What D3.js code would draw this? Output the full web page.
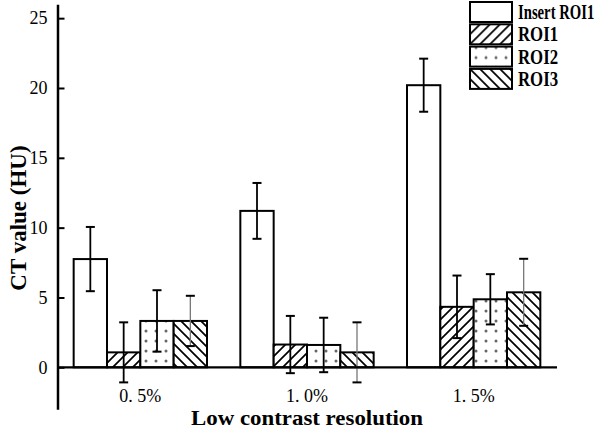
<!DOCTYPE html>
<html><head><meta charset="utf-8">
<script src="https://cdn.jsdelivr.net/npm/d3@7"></script>
<style>body{margin:0;background:#fff;} svg{display:block;}</style>
</head><body>
<svg id="chart" width="597" height="436"></svg>
<script>
const categories = ["0. 5%", "1. 0%", "1. 5%"];
const seriesNames = ["Insert ROI1", "ROI1", "ROI2", "ROI3"];
const insertMean = [7.75, 11.2, 20.2];
const insertErr  = [2.3, 2.0, 1.9];
const roi1Mean = [1.07, 1.63, 4.33];
const roi1Err  = [2.15, 2.05, 2.24];
const roi2Mean = [3.32, 1.6, 4.87];
const roi2Err  = [2.2, 1.95, 1.8];
const roi3Mean = [3.32, 1.07, 5.37];
const roi3Err  = [1.8, 2.15, 2.4];
const yTicks = [0, 5, 10, 15, 20, 25];

const means = [insertMean, roi1Mean, roi2Mean, roi3Mean];
const errs = [insertErr, roi1Err, roi2Err, roi3Err];
const fills = ["#fff", "url(#hatchR)", "url(#dots)", "url(#hatchL)"];
const errLine = ["#000", "#000", "#000", "#777"];

const svg = d3.select("#chart");
const defs = svg.append("defs");
// "/" hatch
const p1 = defs.append("pattern").attr("id","hatchR").attr("patternUnits","userSpaceOnUse")
  .attr("width",10).attr("height",10);
p1.append("rect").attr("width",10).attr("height",10).attr("fill","#fff");
p1.append("path").attr("d","M-1,11 L11,-1 M-6,6 L6,-6 M4,16 L16,4").attr("stroke","#000").attr("stroke-width",1.7);
// "\" hatch
const p3 = defs.append("pattern").attr("id","hatchL").attr("patternUnits","userSpaceOnUse")
  .attr("width",10).attr("height",10);
p3.append("rect").attr("width",10).attr("height",10).attr("fill","#fff");
p3.append("path").attr("d","M-1,-1 L11,11 M-6,4 L6,16 M4,-6 L16,6").attr("stroke","#000").attr("stroke-width",1.7);
// dots
const p2 = defs.append("pattern").attr("id","dots").attr("patternUnits","userSpaceOnUse")
  .attr("width",10).attr("height",10).attr("x",1).attr("y",-4);
p2.append("rect").attr("width",10).attr("height",10).attr("fill","#fff");
p2.append("circle").attr("cx",5).attr("cy",5).attr("r",1.5).attr("fill","#666");

const x0 = d3.scaleBand().domain(categories).range([57, 557]).paddingInner(0.2).paddingOuter(0.1);
const x1 = d3.scaleBand().domain(seriesNames).range([0, x0.bandwidth()]);
const y = d3.scaleLinear().domain([-3, 26]).range([409.2, 4.2]);

// bars
const data = [];
categories.forEach((c, ci) => seriesNames.forEach((s, si) => {
  data.push({c, s, si, v: means[si][ci], e: errs[si][ci]});
}));

const g = svg.append("g");
g.selectAll("rect.bar").data(data).enter().append("rect").attr("class","bar")
  .attr("x", d => x0(d.c) + x1(d.s))
  .attr("y", d => y(d.v))
  .attr("width", x1.bandwidth())
  .attr("height", d => y(0) - y(d.v))
  .attr("fill", d => fills[d.si])
  .attr("stroke", "#000").attr("stroke-width", 2);

// error bars
const eb = g.selectAll("g.err").data(data).enter().append("g").attr("class","err");
const cx = d => x0(d.c) + x1(d.s) + x1.bandwidth()/2;
eb.append("line").attr("x1", cx).attr("x2", cx)
  .attr("y1", d => y(d.v + d.e)).attr("y2", d => y(d.v - d.e))
  .attr("stroke", d => errLine[d.si]).attr("stroke-width", d => d.si === 3 ? 1.3 : 1.8);
[1, -1].forEach(sgn => {
  eb.append("line").attr("x1", d => cx(d) - 4.5).attr("x2", d => cx(d) + 4.5)
    .attr("y1", d => y(d.v + sgn*d.e)).attr("y2", d => y(d.v + sgn*d.e))
    .attr("stroke", "#000").attr("stroke-width", 2);
});

// baseline
svg.append("line").attr("x1", 57).attr("x2", 557).attr("y1", y(0)).attr("y2", y(0))
  .attr("stroke","#000").attr("stroke-width",2.2);

// y axis
const yAxis = d3.axisLeft(y).tickValues(yTicks).tickSizeInner(-7).tickSizeOuter(0).tickPadding(10);
const ya = svg.append("g").attr("transform","translate(57.5,0)").call(yAxis);
ya.select(".domain").attr("stroke-width",2.5);
ya.selectAll(".tick line").attr("stroke-width",2);
ya.selectAll("text").attr("font-family","Liberation Serif").attr("font-size",18).attr("fill","#000");

// x axis labels
const xAxis = d3.axisBottom(x0).tickSize(0).tickPadding(22);
const xa = svg.append("g").attr("transform",`translate(0,${y(0)})`).call(xAxis);
xa.select(".domain").remove();
xa.selectAll("text").attr("font-family","Liberation Serif").attr("font-size",18).attr("fill","#000");

// axis titles
svg.append("text").attr("x", 307).attr("y", 425).attr("text-anchor","middle")
  .attr("font-family","Liberation Serif").attr("font-weight","bold").attr("font-size",21.5)
  .attr("textLength", 232).attr("lengthAdjust","spacingAndGlyphs")
  .text("Low contrast resolution");
svg.append("text").attr("transform","translate(26,218) rotate(-90)").attr("text-anchor","middle")
  .attr("font-family","Liberation Serif").attr("font-weight","bold").attr("font-size",23)
  .text("CT value (HU)");

// legend
const lg = svg.append("g").selectAll("g").data(seriesNames).enter().append("g")
  .attr("transform", (d,i) => `translate(470,${2 + i*22.3})`);
lg.append("rect").attr("width",42).attr("height",20)
  .attr("fill", (d,i) => fills[i]).attr("stroke","#000").attr("stroke-width",2);
lg.append("text").attr("transform", (d,i) => i === 0 ? "translate(48,17) scale(0.7,1)" : "translate(48,17) scale(0.8,1)")
  .text(d => d)
  .attr("font-family","Liberation Serif").attr("font-weight","bold").attr("font-size",21);
</script>
</body></html>
